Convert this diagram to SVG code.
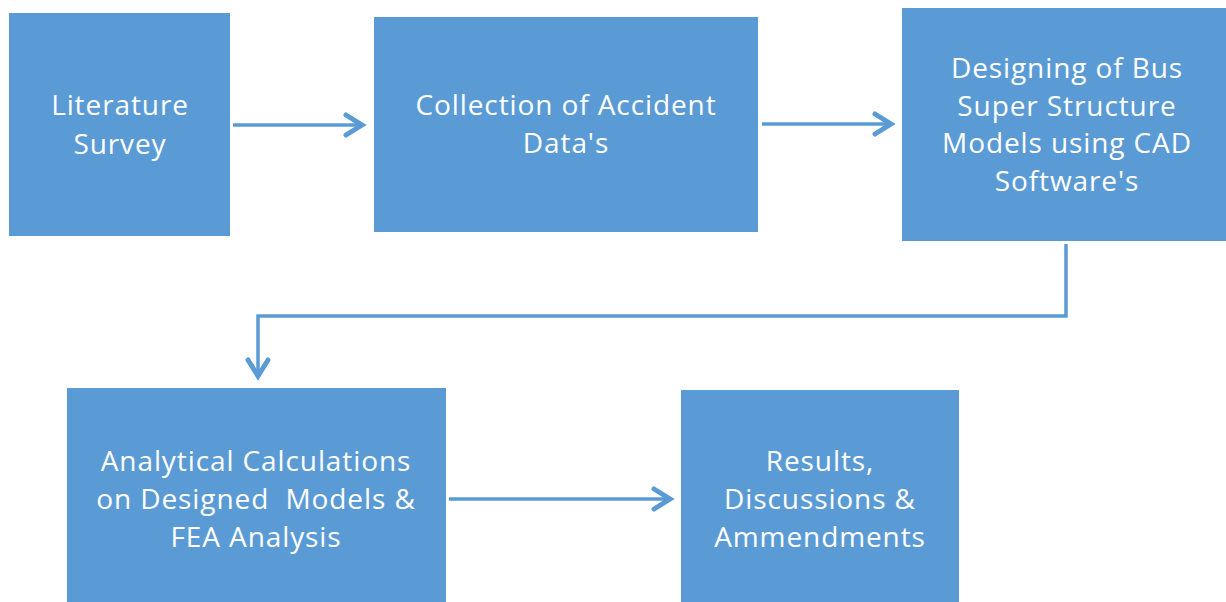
<svg xmlns="http://www.w3.org/2000/svg" width="1226" height="602" viewBox="0 0 1226 602">
<defs>
<style>
.box{fill:#5B9BD5;}
.t{font-family:"Open Sans","Noto Sans",sans-serif;font-size:28px;letter-spacing:0.9px;fill:#ffffff;text-anchor:middle;}
.c{fill:none;stroke:#5B9BD5;stroke-width:3.5;}
.h{fill:none;stroke:#5B9BD5;stroke-width:5;stroke-linecap:round;stroke-linejoin:miter;}
</style>
</defs>
<rect width="1226" height="602" fill="#ffffff"/>
<g id="n1"><rect class="box" x="9" y="13" width="221" height="223"/>
<text class="t" x="120" y="115">Literature</text><text class="t" x="120" y="154">Survey</text></g>
<g id="n2"><rect class="box" x="374" y="17" width="384" height="215"/>
<text class="t" x="566" y="115">Collection of Accident</text><text class="t" x="566" y="153">Data's</text></g>
<g id="n3"><rect class="box" x="902" y="8" width="324" height="233"/>
<text class="t" x="1067" y="78">Designing of Bus</text><text class="t" x="1067" y="116">Super Structure</text><text class="t" x="1067" y="153">Models using CAD</text><text class="t" x="1067" y="191">Software's</text></g>
<g id="n4"><rect class="box" x="67" y="388" width="379" height="214"/>
<text class="t" x="256" y="471">Analytical Calculations</text><text class="t" x="256" y="509" xml:space="preserve" style="white-space:pre">on Designed  Models &amp;</text><text class="t" x="256" y="547">FEA Analysis</text></g>
<g id="n5"><rect class="box" x="681" y="390" width="278" height="212"/>
<text class="t" x="820" y="471">Results,</text><text class="t" x="820" y="509">Discussions &amp;</text><text class="t" x="820" y="547">Ammendments</text></g>
<g id="connectors">
<path class="c" d="M233 125 H362"/><path class="h" d="M346 115 L362 125 L346 135"/>
<path class="c" d="M762 124 H891"/><path class="h" d="M875 114 L891 124 L875 134"/>
<path class="c" d="M1066 244 V316 H258 V376"/><path class="h" d="M248 360 L258 376 L268 360"/>
<path class="c" d="M449 499 H670"/><path class="h" d="M654 489 L670 499 L654 509"/>
</g>
</svg>
